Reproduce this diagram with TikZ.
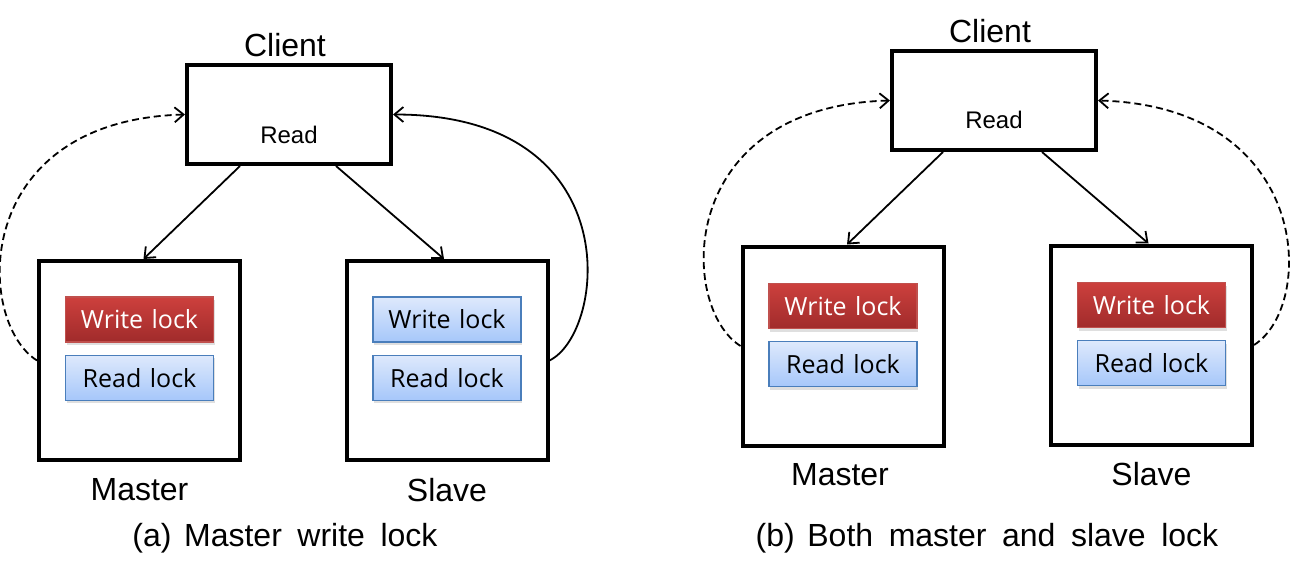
\documentclass[tikz,border=0pt]{standalone}
\usepackage{fontspec}
\setmainfont{Liberation Sans}[WordSpace=1.75]
\newfontfamily\lockfont{Open Sans}[WordSpace=1.3]
\usetikzlibrary{%
  positioning,
  arrows.meta,
  shadows
}
\definecolor{redtop}{HTML}{CD403D}
\definecolor{redbot}{HTML}{A02B2B}
\definecolor{redline}{HTML}{C0504D}
\definecolor{bluetop}{HTML}{DEE9FC}
\definecolor{bluebot}{HTML}{A6C7FA}
\definecolor{blueline}{HTML}{4A7EBB}
\tikzset{
  host/.style = {draw, line width = 4pt, inner sep = 0,
    minimum width = 201pt, minimum height = 199pt},
  client/.style = {host, minimum width = 204pt, minimum height = 99pt},
  lock/.style = {inner sep = 0, line width = 1.2pt,
    minimum width = 148pt, minimum height = 45pt,
    font = \lockfont\fontsize{25}{29}\selectfont,
    drop shadow = {shadow xshift = 1pt, shadow yshift = -3pt, opacity = 0.25}},
  wlock/.style = {lock, draw = redline, top color = redtop, bottom color = redbot, text = white},
  rlock/.style = {lock, draw = blueline, top color = bluetop, bottom color = bluebot},
  lbl/.style = {inner sep = 0, font = \fontsize{32}{38}\selectfont},
  rd/.style = {inner sep = 0, font = \fontsize{24}{28}\selectfont},
  req/.style = {line width = 1.8pt, -{Straight Barb[length = 9pt, width = 15pt]}},
  reply/.style = {req, dash pattern = on 7pt off 4pt}
}
\begin{document}
\begin{tikzpicture}[x = 1pt, y = -1pt]
  \useasboundingbox (0,0) rectangle (1290,578);
  % (a)
  \node[client] (cliA) at (289,114.5) {};
  \node[lbl, above = 6pt of cliA, xshift = -4pt] (cliAname) {Client};
  \node[rd, anchor = base] (rdA) at ([yshift = -28.5pt]cliA.center) {Read};
  \node[host] (mstA) at (139.5,360.5) {};
  \node[host] (slvA) at (447,360.5) {};
  \node[wlock] (wlA) at ([yshift = 41pt]mstA.center) {Write lock};
  \node[rlock, below = 12pt of wlA] (rlA) {Read lock};
  \node[rlock] (wlA2) at ([yshift = 41pt]slvA.center) {Write lock};
  \node[rlock, below = 12pt of wlA2] (rlA2) {Read lock};
  \node[lbl, below = 16pt of mstA] (mstAname) {Master};
  \node[lbl, below = 16pt of slvA] (slvAname) {Slave};
  \node[lbl, anchor = base] (captA) at (285,546) {(a)\kern-3pt{} Master write lock};
  \draw[req] ([xshift = -49pt]cliA.south) -- ([xshift = 4pt]mstA.north);
  \draw[req] ([xshift = 47pt]cliA.south) -- ([xshift = -3pt]slvA.north);
  \draw[reply] (mstA.west) .. controls +(-62,-39) and +(-215,6) .. (cliA.west);
  \draw[req] (slvA.east) .. controls +(57,-28) and +(237,0) .. (cliA.east);
  % (b)
  \node[client] (cliB) at (994,100.5) {};
  \node[lbl, above = 6pt of cliB, xshift = -4pt] (cliBname) {Client};
  \node[rd, anchor = base] (rdB) at ([yshift = -28pt]cliB.center) {Read};
  \node[host] (mstB) at (843,346) {};
  \node[host] (slvB) at (1151.5,345) {};
  \node[wlock] (wlB) at ([yshift = 40pt]mstB.center) {Write lock};
  \node[rlock, below = 12pt of wlB] (rlB) {Read lock};
  \node[wlock] (wlB2) at ([yshift = 40pt]slvB.center) {Write lock};
  \node[rlock, below = 12pt of wlB2] (rlB2) {Read lock};
  \node[lbl, below = 16pt of mstB, xshift = -3pt] (mstBname) {Master};
  \node[lbl, below = 16pt of slvB] (slvBname) {Slave};
  \node[lbl, anchor = base] (captB) at (987,546) {(b)\kern-3pt{} Both master and slave lock};
  \draw[req] ([xshift = -51pt]cliB.south) -- ([xshift = 4pt]mstB.north);
  \draw[req] ([xshift = 48pt]cliB.south) -- ([xshift = -3pt]slvB.north);
  \draw[reply] (mstB.west) .. controls +(-62,-39) and +(-215,6) .. (cliB.west);
  \draw[reply] (slvB.east) .. controls +(62,-39) and +(215,6) .. (cliB.east);
\end{tikzpicture}
\end{document}
